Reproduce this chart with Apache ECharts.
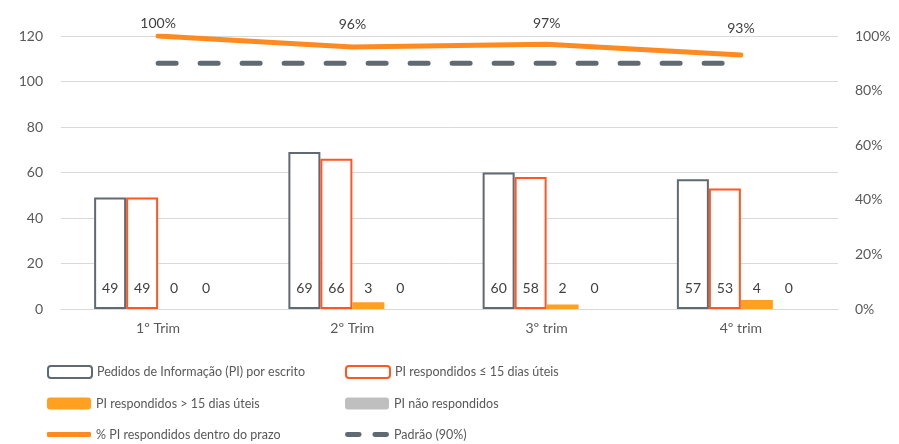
<!DOCTYPE html>
<html>
<head>
<meta charset="utf-8">
<script src="https://cdn.jsdelivr.net/npm/echarts@6/dist/echarts.min.js"></script>
<style>
  html, body { margin: 0; padding: 0; background: #fff; }
  #chart { width: 899px; height: 444px; }
</style>
</head>
<body>
<div id="chart"></div>
<script>
// dados
const categories = ['1º Trim', '2º Trim', '3º trim', '4º trim']
const pedidos = [49, 69, 60, 57]
const respAte15 = [49, 66, 58, 53]
const respMais15 = [0, 3, 2, 4]
const naoResp = [0, 0, 0, 0]
const pctPrazo = [1.00, 0.96, 0.97, 0.93]
const padrao = [0.90, 0.90, 0.90, 0.90]
const leftTicks = [0, 20, 40, 60, 80, 100, 120]

// distância dos rótulos % à linha (posicionados à mão no original)
const pctLabelDist = [5, 15, 13, 19]

const FONT = "Lato, 'Noto Sans', sans-serif"
const TXT = '#595959'
const SLATE = '#5f6a72'
const ORANGE_LINE = '#ff8a1f'

const barLabel = {
  show: true,
  position: 'insideBottom',
  distance: 14,
  color: '#404040',
  fontSize: 14,
  fontFamily: FONT
}

// legenda: uma entrada por bloco, duas colunas
const legendItem = (item, left, top, h) => ({
  left, top, padding: 0,
  itemWidth: 44, itemHeight: h || 12,
  textStyle: { color: TXT, fontSize: 12.5, fontFamily: FONT },
  data: [item]
})

const chart = echarts.init(document.getElementById('chart'))

const option = {
  animation: false,
  backgroundColor: '#fff',
  textStyle: { fontFamily: FONT },
  grid: { left: 61, right: 61, top: 36, bottom: 135 },
  legend: [
    legendItem('Pedidos de Informação (PI) por escrito', 47, 365),
    legendItem('PI respondidos > 15 dias úteis', 47, 397),
    legendItem({ name: '% PI respondidos dentro do prazo', icon: 'roundRect' }, 47, 428, 5),
    legendItem('PI respondidos ≤ 15 dias úteis', 345, 365),
    legendItem('PI não respondidos', 345, 397),
    legendItem({ name: 'Padrão (90%)', icon: 'path://M2,0h12a2,2 0 0 1 0,5h-12a2,2 0 0 1 0,-5z M30,0h12a2,2 0 0 1 0,5h-12a2,2 0 0 1 0,-5z' }, 345, 428, 5)
  ],
  xAxis: {
    type: 'category',
    data: categories,
    axisTick: { show: false },
    axisLine: { lineStyle: { color: '#d9d9d9' } },
    axisLabel: { color: TXT, fontSize: 14, margin: 12, fontFamily: FONT }
  },
  yAxis: [
    {
      type: 'value', min: leftTicks[0], max: leftTicks[leftTicks.length - 1], interval: 20,
      axisLabel: { color: TXT, fontSize: 14, margin: 18, fontFamily: FONT },
      splitLine: { lineStyle: { color: '#d9d9d9' } }
    },
    {
      type: 'value', min: 0, max: 1, interval: 0.2,
      axisLabel: {
        color: TXT, fontSize: 14, margin: 17, fontFamily: FONT,
        formatter: v => Math.round(v * 100) + '%'
      },
      splitLine: { show: false }
    }
  ],
  series: [
    {
      name: 'Pedidos de Informação (PI) por escrito',
      type: 'bar', data: pedidos, barWidth: 32, barGap: '0%',
      itemStyle: { color: '#fff', borderColor: SLATE, borderWidth: 2 },
      label: barLabel
    },
    {
      name: 'PI respondidos ≤ 15 dias úteis',
      type: 'bar', data: respAte15, barWidth: 32, barGap: '0%',
      itemStyle: { color: '#fff', borderColor: '#ff5722', borderWidth: 2 },
      label: barLabel
    },
    {
      name: 'PI respondidos > 15 dias úteis',
      type: 'bar', data: respMais15, barWidth: 32, barGap: '0%',
      itemStyle: { color: '#ffa020' },
      label: barLabel
    },
    {
      name: 'PI não respondidos',
      type: 'bar', data: naoResp, barWidth: 32, barGap: '0%',
      itemStyle: { color: '#bfbfbf' },
      label: barLabel
    },
    {
      name: '% PI respondidos dentro do prazo',
      type: 'line', yAxisIndex: 1,
      data: pctPrazo.map((v, i) => ({ value: v, label: { distance: pctLabelDist[i] } })),
      symbol: 'circle', symbolSize: 1, showSymbol: true,
      itemStyle: { color: ORANGE_LINE },
      lineStyle: { color: ORANGE_LINE, width: 5, cap: 'round' },
      label: {
        show: true, position: 'top',
        color: '#404040', fontSize: 14, fontFamily: FONT,
        formatter: p => Math.round(p.value * 100) + '%'
      }
    },
    {
      name: 'Padrão (90%)',
      type: 'line', yAxisIndex: 1, data: padrao,
      symbol: 'none',
      itemStyle: { color: SLATE },
      lineStyle: { color: SLATE, width: 5, type: [18, 24], cap: 'round' }
    }
  ]
}

chart.setOption(option)
window.addEventListener('resize', () => chart.resize())
</script>
</body>
</html>
